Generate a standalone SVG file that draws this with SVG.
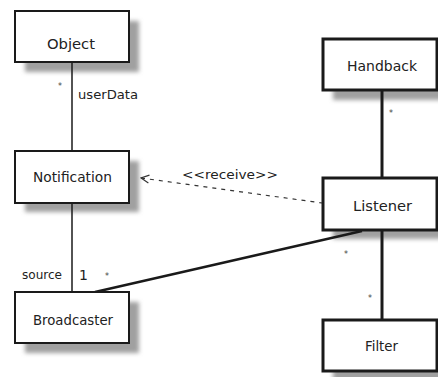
<svg xmlns="http://www.w3.org/2000/svg" width="438" height="377" viewBox="0 0 438 377">
<defs>
<filter id="sh" x="-20%" y="-20%" width="150%" height="160%">
<feGaussianBlur stdDeviation="2"/>
</filter>
<marker id="open" markerWidth="10" markerHeight="10" refX="1" refY="5" orient="auto" markerUnits="userSpaceOnUse">
<path d="M9,1 L1,5 L9,9" fill="none" stroke="#333" stroke-width="1.2"/>
</marker>
</defs>
<style>
.shadow{fill:#a0a0a0;filter:url(#sh)}
.box{fill:#fff;stroke:#1a1a1a;stroke-width:2}
.boxb{fill:#fff;stroke:#1a1a1a;stroke-width:3}
.t{font-family:"DejaVu Sans","Liberation Sans",sans-serif;font-size:13.5px;fill:#222;text-anchor:middle}
.l{font-family:"DejaVu Sans","Liberation Sans",sans-serif;font-size:12.5px;fill:#222}
.m{font-family:"DejaVu Sans","Liberation Sans",sans-serif;font-size:8px;fill:#444;text-anchor:middle}
.thin{stroke:#1a1a1a;stroke-width:1.5;fill:none}
.thick{stroke:#1a1a1a;stroke-width:3;fill:none}
</style>
<rect width="438" height="377" fill="#fff"/>
<g id="shadows">
<rect class="shadow" x="25" y="21" width="114" height="51"/>
<rect class="shadow" x="25" y="161" width="114" height="51"/>
<rect class="shadow" x="25" y="302" width="114" height="51"/>
<rect class="shadow" x="333" y="49" width="114" height="51"/>
<rect class="shadow" x="333" y="188" width="114" height="51"/>
<rect class="shadow" x="333" y="330" width="114" height="51"/>
</g>
<g id="connectors">
<line class="thin" x1="72" y1="62" x2="72" y2="151"/>
<line class="thin" x1="72" y1="203" x2="72" y2="292"/>
<line class="thick" x1="382" y1="90" x2="382" y2="178"/>
<line class="thick" x1="382" y1="230" x2="382" y2="320"/>
<line stroke="#1a1a1a" stroke-width="2.5" x1="95" y1="292" x2="362" y2="231"/>
<line stroke="#333" stroke-width="1.2" stroke-dasharray="4,5" x1="141" y1="178" x2="322" y2="203" marker-start="url(#open)"/>
<text class="l" x="182" y="179" textLength="96" lengthAdjust="spacingAndGlyphs">&lt;&lt;receive&gt;&gt;</text>
<text class="m" x="60" y="89">*</text>
<text class="l" x="78" y="99" textLength="60" lengthAdjust="spacingAndGlyphs">userData</text>
<text class="l" x="22" y="279" textLength="40" lengthAdjust="spacingAndGlyphs">source</text>
<text class="l" x="79" y="279.5" style="font-size:14px">1</text>
<text class="m" x="107" y="279">*</text>
<text class="m" x="391" y="116">*</text>
<text class="m" x="346" y="257">*</text>
<text class="m" x="370" y="301">*</text>
</g>
<g id="Object">
<rect class="box" x="15" y="11" width="114" height="51"/>
<text class="t" x="71" y="48.5" textLength="48" lengthAdjust="spacingAndGlyphs">Object</text>
</g>
<g id="Notification">
<rect class="box" x="15" y="151" width="114" height="52"/>
<text class="t" x="72.5" y="182" textLength="79" lengthAdjust="spacingAndGlyphs">Notification</text>
</g>
<g id="Broadcaster">
<rect class="box" x="15" y="292" width="114" height="51"/>
<text class="t" x="73" y="325" textLength="80" lengthAdjust="spacingAndGlyphs">Broadcaster</text>
</g>
<g id="Handback">
<rect class="boxb" x="323" y="39" width="114" height="51"/>
<text class="t" x="382" y="71" textLength="70" lengthAdjust="spacingAndGlyphs">Handback</text>
</g>
<g id="Listener">
<rect class="boxb" x="323" y="178" width="114" height="52"/>
<text class="t" x="382.5" y="211" textLength="59" lengthAdjust="spacingAndGlyphs">Listener</text>
</g>
<g id="Filter">
<rect class="boxb" x="323" y="320" width="114" height="51"/>
<text class="t" x="381.5" y="351" textLength="33" lengthAdjust="spacingAndGlyphs">Filter</text>
</g>
</svg>
